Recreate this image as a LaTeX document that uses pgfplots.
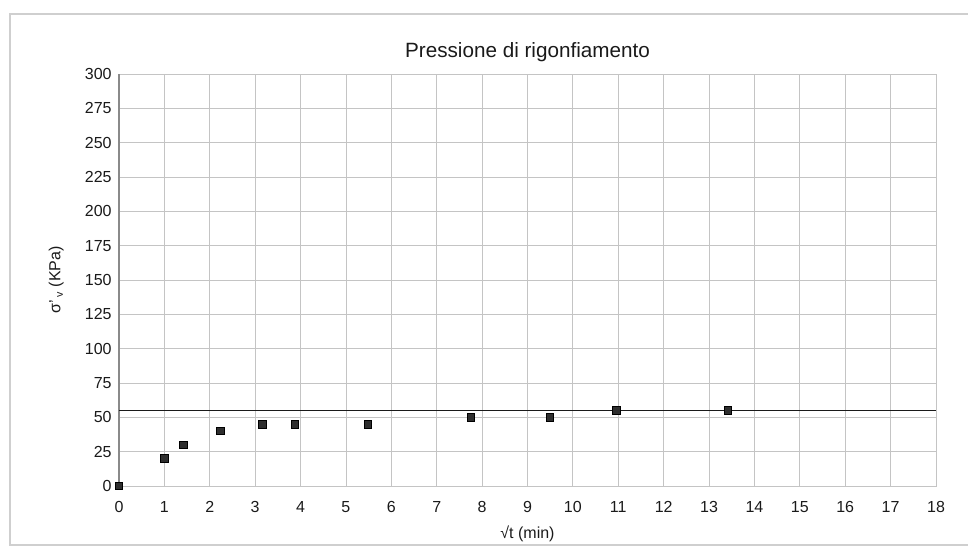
\documentclass[border=0pt]{standalone}
\usepackage{fontspec}
\setmainfont{Liberation Sans}
\usepackage{pgfplots}
\pgfplotsset{compat=1.18}
\definecolor{gridgray}{HTML}{C4C4C4}
\definecolor{axisgray}{HTML}{8A8A8A}
\definecolor{framegray}{HTML}{CFCFCF}
\definecolor{markgray}{HTML}{2E2E2E}
\definecolor{ink}{HTML}{1A1A1A}

\begin{document}
\begin{tikzpicture}[x=0.75pt,y=0.75pt]
  % picture frame in pixel units (axis box lower-left at 0,0)
  \useasboundingbox (-119,-61) rectangle (849,486);
  \draw[framegray, line width=0.8pt] (-109,-59) rectangle (860,472);
  \begin{axis}[
    scale only axis,
    width=612.75pt, height=309pt,
    xmin=0, xmax=18, ymin=0, ymax=300,
    xtick={0,1,...,18},
    ytick={0,25,...,300},
    grid=major,
    major grid style={draw=gridgray, line width=0.6pt},
    axis line style={draw=gridgray, line width=0.6pt},
    tick style={draw=none},
    ticklabel style={font=\fontsize{12}{14}\selectfont, text=ink},
    /pgf/number format/assume math mode=true,
    xticklabel style={yshift=-8pt},
    yticklabel style={xshift=-2pt},
    xlabel={√t (min)},
    ylabel={σ'\,\textsubscript{v} (KPa)},
    xlabel style={font=\fontsize{12}{14}\selectfont, text=ink, yshift=-3pt},
    ylabel style={font=\fontsize{12}{14}\selectfont, text=ink, yshift=9pt},
    title={Pressione di rigonfiamento},
    title style={font=\fontsize{15.5}{17}\selectfont, text=ink, yshift=0pt},
    clip=false
  ]
    \draw[axisgray, line width=0.8pt] (axis cs:0,0) -- (axis cs:0,300);
    \addplot[ink, line width=1.4pt] coordinates {(0,55) (18,55)};
    \addplot[only marks, mark=square*, mark size=2.8pt,
      mark options={fill=markgray, draw=black, line width=0.5pt}]
      coordinates {
        (0,0) (1,20) (1.414,30) (2.236,40) (3.162,45) (3.873,45)
        (5.477,45) (7.746,50) (9.487,50) (10.954,55) (13.416,55)
      };
  \end{axis}
\end{tikzpicture}
\end{document}
